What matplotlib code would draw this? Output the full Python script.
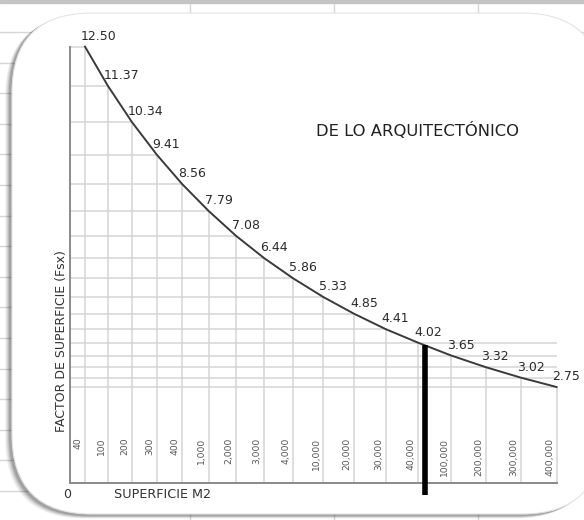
import numpy as np
import matplotlib
matplotlib.use('Agg')
import matplotlib.pyplot as plt
from matplotlib.patches import FancyBboxPatch
import matplotlib.transforms as mtransforms

# superficie (m2) categories and surface factor Fsx
superficie = ["40", "100", "200", "300", "400", "1,000", "2,000", "3,000", "4,000",
              "10,000", "20,000", "30,000", "40,000", "100,000", "200,000",
              "300,000", "400,000"]
fsx = [12.50, 11.37, 10.34, 9.41, 8.56, 7.79, 7.08, 6.44, 5.86, 5.33,
       4.85, 4.41, 4.02, 3.65, 3.32, 3.02, 2.75]
marker_pos = 12.2   # thick bar just past 40,000

title = "DE LO ARQUITECTÓNICO"
ylabel = "FACTOR DE SUPERFICIE (Fsx)"
xlabel = "SUPERFICIE M2"

W, H = 584, 520
fig = plt.figure(figsize=(W / 100, H / 100), dpi=100)
fig.patch.set_facecolor('white')

# ---- background: spreadsheet + rounded white card with shadow ----
bg = fig.add_axes([0, 0, 1, 1])
bg.set_xlim(0, W)
bg.set_ylim(H, 0)
bg.axis('off')
for yy in np.arange(32, H, 30.6):
    bg.axhline(yy, color='#d6d6d6', lw=1, zorder=0)
for xx in [190, 334, 478]:
    bg.axvline(xx, color='#d6d6d6', lw=1, zorder=0)
bg.axhspan(0, 3, color='#c4c4c4', zorder=0)

for k, a in enumerate([0.05, 0.07, 0.09, 0.12, 0.16]):
    d = 6 - k
    sh = FancyBboxPatch((11 - d, 13 + d * 0.6), 590, 502,
                        boxstyle="round,pad=0,rounding_size=80",
                        fc='#202020', ec='none', alpha=a, zorder=1)
    bg.add_patch(sh)
card = FancyBboxPatch((12, 13), 590, 501, boxstyle="round,pad=0,rounding_size=80",
                      fc='white', ec='#e4e4e4', lw=0.8, zorder=2)
bg.add_patch(card)

# ---- chart ----
c = 0.019
def fwd(i):
    return i + c * i * i
def inv(F):
    return (-1 + np.sqrt(np.maximum(1 + 4 * c * F, 0))) / (2 * c)

ax = fig.add_axes([0, 20 / H, 1, 475 / H])
ax.patch.set_alpha(0)
ax.set_xscale('function', functions=(fwd, inv))
ax.set_xlim(inv(np.array(-85 / 22.6)), inv(np.array((W - 85) / 22.6)))
ax.set_ylim(-0.487, 13.12)
ax.axis('off')

idx = np.arange(len(fsx))
vals = np.array(fsx)
x_left = float(inv(np.array(-15 / 22.6)))

grid_c = '#d4d4d4'
ax.vlines(idx, 0, vals, color=grid_c, lw=1.1, zorder=1)
ends = idx.astype(float)
ends[int(marker_pos):] = idx[-1]
ax.hlines(vals, x_left, ends, color=grid_c, lw=1.1, zorder=1)

# axes lines
ax.plot([x_left, x_left], [0, vals[0]], color='#8a8a8a', lw=1.4, zorder=2)
ax.plot([x_left, idx[-1]], [0, 0], color='#8a8a8a', lw=1.4, zorder=2)

ax.plot(idx, vals, color='#3a3a3a', lw=1.4, zorder=3)

mv = np.interp(marker_pos, idx, vals)
ax.plot([marker_pos, marker_pos], [-0.34, mv], color='black', lw=4,
        solid_capstyle='butt', zorder=4, clip_on=False)

for i, v in zip(idx, vals):
    ax.annotate(f"{v:.2f}", (i, v), xytext=(-4, 4), textcoords='offset pixels',
                ha='left', va='bottom', fontsize=9, color='#2a2a2a', zorder=5)

tick_tr = mtransforms.offset_copy(ax.transData, fig=fig, x=-7, y=0, units='dots')
for i, lab in zip(idx, superficie):
    ax.text(i, 1.3, lab, transform=tick_tr, rotation=90, ha='center', va='top',
            fontsize=6.6, color='#555555')

fig.text(417 / W, 1 - 130 / H, title, ha='center', va='center', fontsize=11.8,
         color='#222222')
fig.text(61 / W, 1 - 341 / H, ylabel, ha='center', va='center', rotation=90,
         fontsize=9, color='#333333')
fig.text(67 / W, 1 - 495 / H, "0", ha='center', va='center', fontsize=9,
         color='#333333')
fig.text(163 / W, 1 - 495 / H, xlabel, ha='center', va='center', fontsize=9.2,
         color='#333333')

fig.savefig("out.png", dpi=100)
